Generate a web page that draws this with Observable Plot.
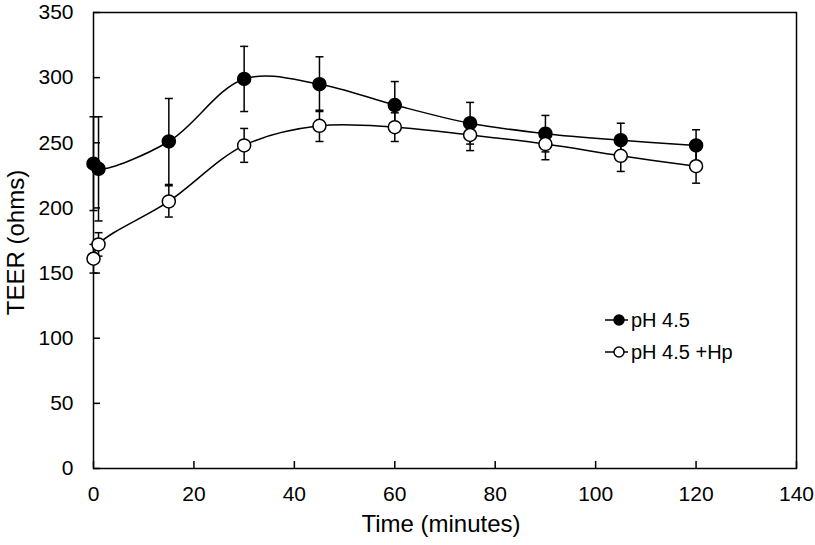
<!DOCTYPE html>
<html>
<head>
<meta charset="utf-8">
<script src="https://cdn.jsdelivr.net/npm/d3@7"></script>
<script src="https://cdn.jsdelivr.net/npm/@observablehq/plot@0.6"></script>
<style>
  html, body { margin: 0; padding: 0; background: #fff; }
  #wrap { position: relative; width: 815px; height: 545px; font-family: "Liberation Sans", Arial, sans-serif; }
  #legend { position: absolute; left: 604px; top: 304px; font-size: 20px; color: #000; }
  .item { display: flex; align-items: center; height: 32px; }
  .item svg { margin-right: 2px; }
</style>
</head>
<body>
<div id="wrap"></div>
<script>
// Data
const times = [0, 1, 15, 30, 45, 60, 75, 90, 105, 120];
const ph45 = [234, 230, 251, 299, 295, 279, 265, 257, 252, 248];
const ph45Err = [36, 40, 33, 25, 21, 18, 16, 14, 13, 12];
const ph45Hp = [161, 172, 205, 248, 263, 262, 256, 249, 240, 232];
const ph45HpErr = [11, 9, 12, 13, 12, 11, 12, 12, 12, 13];
const seriesNames = ["pH 4.5", "pH 4.5 +Hp"];
const xTicks = [0, 20, 40, 60, 80, 100, 120, 140];
const yTicks = [0, 50, 100, 150, 200, 250, 300, 350];

const black = times.map((t, i) => ({t, v: ph45[i], e: ph45Err[i]}));
const white = times.map((t, i) => ({t, v: ph45Hp[i], e: ph45HpErr[i]}));

const cap = {draw(ctx) { ctx.moveTo(-4, 0); ctx.lineTo(4, 0); }};

function seriesMarks(data, fill) {
  return [
    Plot.ruleX(data, {x: "t", y1: d => d.v - d.e, y2: d => d.v + d.e, stroke: "#000", strokeWidth: 1.5}),
    Plot.dot(data, {x: "t", y: d => d.v + d.e, symbol: cap, stroke: "#000", strokeWidth: 1.5, r: 4}),
    Plot.dot(data, {x: "t", y: d => d.v - d.e, symbol: cap, stroke: "#000", strokeWidth: 1.5, r: 4}),
    Plot.line(data, {x: "t", y: "v", curve: "catmull-rom", stroke: "#000", strokeWidth: 1.5}),
    Plot.dot(data, {x: "t", y: "v", r: 6.5, fill, stroke: "#000", strokeWidth: 1.5})
  ];
}

const chart = Plot.plot({
  width: 815,
  height: 545,
  marginLeft: 93,
  marginRight: 19,
  marginTop: 12,
  marginBottom: 77,
  style: {fontFamily: "Liberation Sans, Arial, sans-serif", fontSize: "21px", color: "#000", background: "#fff"},
  x: {domain: [0, 140], ticks: xTicks},
  y: {domain: [0, 350], ticks: yTicks},
  marks: [
    Plot.frame({stroke: "#000", strokeWidth: 1.5}),
    Plot.axisX({ticks: xTicks, tickSize: -7, tickPadding: 25, stroke: "#000", strokeWidth: 1.5, fontSize: 21, label: null}),
    Plot.axisY({ticks: yTicks, tickSize: -7, tickPadding: 27, stroke: "#000", strokeWidth: 1.5, fontSize: 21, label: null}),
    Plot.text(["Time (minutes)"], {frameAnchor: "bottom", textAnchor: "middle", dx: -4, dy: 63, fontSize: 24, text: d => d}),
    Plot.text(["TEER (ohms)"], {frameAnchor: "left", textAnchor: "middle", dx: -77, dy: 2, rotate: -90, fontSize: 24, text: d => d}),
    ...seriesMarks(black, "#000"),
    ...seriesMarks(white, "#fff")
  ]
});

const wrap = document.getElementById("wrap");
wrap.appendChild(chart);

const legend = document.createElement("div");
legend.id = "legend";
seriesNames.forEach((name, i) => {
  const fill = i === 0 ? "#000" : "#fff";
  const item = document.createElement("div");
  item.className = "item";
  item.innerHTML = `<svg width="25" height="16"><line x1="1" y1="8" x2="24" y2="8" stroke="#000" stroke-width="1.5"/><circle cx="15" cy="8" r="5" fill="${fill}" stroke="#000" stroke-width="1.5"/></svg><span>${name}</span>`;
  legend.appendChild(item);
});
wrap.appendChild(legend);
</script>
</body>
</html>
